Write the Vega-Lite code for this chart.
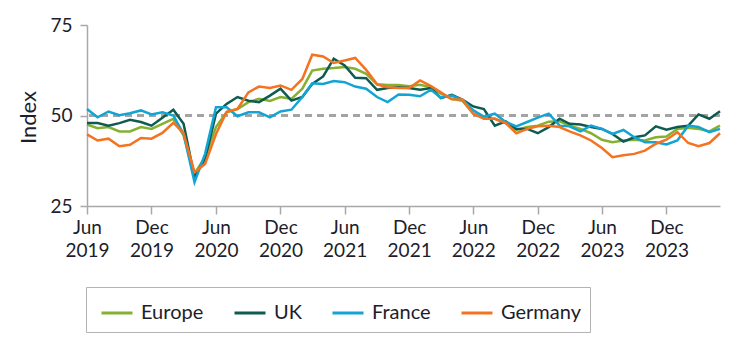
{
"$schema": "https://vega.github.io/schema/vega-lite/v6.json",
"width": 633, "height": 181,
"autosize": {"type": "none"},
"padding": {"left": 87, "top": 25, "right": 18, "bottom": 149},
"config": {"view": {"stroke": null}, "font": "Lato",
  "axis": {"labelColor": "#1d1d2b", "titleColor": "#1d1d2b", "domainColor": "#a8a8a8", "tickColor": "#a8a8a8", "domainWidth": 1.5, "tickWidth": 1.5, "labelFontSize": 19, "titleFontSize": 22, "titleFontWeight": "normal", "grid": false},
  "legend": {"labelColor": "#1d1d2b", "labelFontSize": 20}},
"data": {"values": [
{"d":"2019/06/01","s":"Europe","v":47.5},{"d":"2019/07/01","s":"Europe","v":46.5},{"d":"2019/08/01","s":"Europe","v":46.8},{"d":"2019/09/01","s":"Europe","v":45.6},{"d":"2019/10/01","s":"Europe","v":45.6},{"d":"2019/11/01","s":"Europe","v":46.8},{"d":"2019/12/01","s":"Europe","v":46.3},{"d":"2020/01/01","s":"Europe","v":47.7},{"d":"2020/02/01","s":"Europe","v":49.1},{"d":"2020/03/01","s":"Europe","v":44.5},{"d":"2020/04/01","s":"Europe","v":33.9},{"d":"2020/05/01","s":"Europe","v":38.5},{"d":"2020/06/01","s":"Europe","v":46.8},{"d":"2020/07/01","s":"Europe","v":50.9},{"d":"2020/08/01","s":"Europe","v":51.8},{"d":"2020/09/01","s":"Europe","v":53.7},{"d":"2020/10/01","s":"Europe","v":54.6},{"d":"2020/11/01","s":"Europe","v":54.0},{"d":"2020/12/01","s":"Europe","v":55.1},{"d":"2021/01/01","s":"Europe","v":54.6},{"d":"2021/02/01","s":"Europe","v":57.4},{"d":"2021/03/01","s":"Europe","v":62.4},{"d":"2021/04/01","s":"Europe","v":62.9},{"d":"2021/05/01","s":"Europe","v":63.1},{"d":"2021/06/01","s":"Europe","v":63.4},{"d":"2021/07/01","s":"Europe","v":62.9},{"d":"2021/08/01","s":"Europe","v":61.5},{"d":"2021/09/01","s":"Europe","v":58.6},{"d":"2021/10/01","s":"Europe","v":58.4},{"d":"2021/11/01","s":"Europe","v":58.4},{"d":"2021/12/01","s":"Europe","v":58.1},{"d":"2022/01/01","s":"Europe","v":58.5},{"d":"2022/02/01","s":"Europe","v":57.8},{"d":"2022/03/01","s":"Europe","v":56.0},{"d":"2022/04/01","s":"Europe","v":54.6},{"d":"2022/05/01","s":"Europe","v":54.1},{"d":"2022/06/01","s":"Europe","v":50.5},{"d":"2022/07/01","s":"Europe","v":49.4},{"d":"2022/08/01","s":"Europe","v":49.1},{"d":"2022/09/01","s":"Europe","v":47.9},{"d":"2022/10/01","s":"Europe","v":46.0},{"d":"2022/11/01","s":"Europe","v":46.8},{"d":"2022/12/01","s":"Europe","v":47.2},{"d":"2023/01/01","s":"Europe","v":48.3},{"d":"2023/02/01","s":"Europe","v":48.4},{"d":"2023/03/01","s":"Europe","v":47.2},{"d":"2023/04/01","s":"Europe","v":46.3},{"d":"2023/05/01","s":"Europe","v":45.1},{"d":"2023/06/01","s":"Europe","v":43.3},{"d":"2023/07/01","s":"Europe","v":42.6},{"d":"2023/08/01","s":"Europe","v":43.1},{"d":"2023/09/01","s":"Europe","v":43.3},{"d":"2023/10/01","s":"Europe","v":43.1},{"d":"2023/11/01","s":"Europe","v":44.0},{"d":"2023/12/01","s":"Europe","v":44.2},{"d":"2024/01/01","s":"Europe","v":46.3},{"d":"2024/02/01","s":"Europe","v":46.6},{"d":"2024/03/01","s":"Europe","v":46.3},{"d":"2024/04/01","s":"Europe","v":45.6},{"d":"2024/05/01","s":"Europe","v":47.2},
{"d":"2019/06/01","s":"UK","v":47.9},{"d":"2019/07/01","s":"UK","v":47.9},{"d":"2019/08/01","s":"UK","v":47.2},{"d":"2019/09/01","s":"UK","v":47.9},{"d":"2019/10/01","s":"UK","v":48.8},{"d":"2019/11/01","s":"UK","v":48.2},{"d":"2019/12/01","s":"UK","v":47.2},{"d":"2020/01/01","s":"UK","v":49.4},{"d":"2020/02/01","s":"UK","v":51.6},{"d":"2020/03/01","s":"UK","v":47.7},{"d":"2020/04/01","s":"UK","v":33.0},{"d":"2020/05/01","s":"UK","v":38.0},{"d":"2020/06/01","s":"UK","v":50.5},{"d":"2020/07/01","s":"UK","v":53.2},{"d":"2020/08/01","s":"UK","v":55.1},{"d":"2020/09/01","s":"UK","v":54.1},{"d":"2020/10/01","s":"UK","v":53.7},{"d":"2020/11/01","s":"UK","v":55.5},{"d":"2020/12/01","s":"UK","v":57.4},{"d":"2021/01/01","s":"UK","v":54.1},{"d":"2021/02/01","s":"UK","v":55.1},{"d":"2021/03/01","s":"UK","v":58.7},{"d":"2021/04/01","s":"UK","v":60.8},{"d":"2021/05/01","s":"UK","v":65.7},{"d":"2021/06/01","s":"UK","v":63.8},{"d":"2021/07/01","s":"UK","v":60.4},{"d":"2021/08/01","s":"UK","v":60.3},{"d":"2021/09/01","s":"UK","v":57.1},{"d":"2021/10/01","s":"UK","v":57.6},{"d":"2021/11/01","s":"UK","v":57.8},{"d":"2021/12/01","s":"UK","v":57.6},{"d":"2022/01/01","s":"UK","v":57.1},{"d":"2022/02/01","s":"UK","v":57.6},{"d":"2022/03/01","s":"UK","v":54.8},{"d":"2022/04/01","s":"UK","v":55.7},{"d":"2022/05/01","s":"UK","v":54.4},{"d":"2022/06/01","s":"UK","v":52.5},{"d":"2022/07/01","s":"UK","v":51.8},{"d":"2022/08/01","s":"UK","v":47.2},{"d":"2022/09/01","s":"UK","v":48.4},{"d":"2022/10/01","s":"UK","v":46.3},{"d":"2022/11/01","s":"UK","v":46.3},{"d":"2022/12/01","s":"UK","v":45.1},{"d":"2023/01/01","s":"UK","v":46.8},{"d":"2023/02/01","s":"UK","v":49.1},{"d":"2023/03/01","s":"UK","v":47.7},{"d":"2023/04/01","s":"UK","v":47.5},{"d":"2023/05/01","s":"UK","v":46.8},{"d":"2023/06/01","s":"UK","v":46.3},{"d":"2023/07/01","s":"UK","v":44.9},{"d":"2023/08/01","s":"UK","v":42.8},{"d":"2023/09/01","s":"UK","v":44.0},{"d":"2023/10/01","s":"UK","v":44.5},{"d":"2023/11/01","s":"UK","v":47.0},{"d":"2023/12/01","s":"UK","v":46.1},{"d":"2024/01/01","s":"UK","v":46.8},{"d":"2024/02/01","s":"UK","v":47.2},{"d":"2024/03/01","s":"UK","v":50.3},{"d":"2024/04/01","s":"UK","v":49.1},{"d":"2024/05/01","s":"UK","v":51.2},
{"d":"2019/06/01","s":"France","v":51.8},{"d":"2019/07/01","s":"France","v":49.5},{"d":"2019/08/01","s":"France","v":51.1},{"d":"2019/09/01","s":"France","v":50.1},{"d":"2019/10/01","s":"France","v":50.6},{"d":"2019/11/01","s":"France","v":51.4},{"d":"2019/12/01","s":"France","v":50.3},{"d":"2020/01/01","s":"France","v":50.9},{"d":"2020/02/01","s":"France","v":50.0},{"d":"2020/03/01","s":"France","v":44.9},{"d":"2020/04/01","s":"France","v":31.6},{"d":"2020/05/01","s":"France","v":39.4},{"d":"2020/06/01","s":"France","v":52.3},{"d":"2020/07/01","s":"France","v":52.3},{"d":"2020/08/01","s":"France","v":49.8},{"d":"2020/09/01","s":"France","v":50.9},{"d":"2020/10/01","s":"France","v":50.9},{"d":"2020/11/01","s":"France","v":49.5},{"d":"2020/12/01","s":"France","v":51.1},{"d":"2021/01/01","s":"France","v":51.6},{"d":"2021/02/01","s":"France","v":55.1},{"d":"2021/03/01","s":"France","v":58.9},{"d":"2021/04/01","s":"France","v":58.7},{"d":"2021/05/01","s":"France","v":59.5},{"d":"2021/06/01","s":"France","v":59.2},{"d":"2021/07/01","s":"France","v":58.0},{"d":"2021/08/01","s":"France","v":57.4},{"d":"2021/09/01","s":"France","v":55.1},{"d":"2021/10/01","s":"France","v":53.7},{"d":"2021/11/01","s":"France","v":55.8},{"d":"2021/12/01","s":"France","v":55.7},{"d":"2022/01/01","s":"France","v":55.3},{"d":"2022/02/01","s":"France","v":57.1},{"d":"2022/03/01","s":"France","v":54.9},{"d":"2022/04/01","s":"France","v":55.5},{"d":"2022/05/01","s":"France","v":54.3},{"d":"2022/06/01","s":"France","v":51.4},{"d":"2022/07/01","s":"France","v":49.7},{"d":"2022/08/01","s":"France","v":50.5},{"d":"2022/09/01","s":"France","v":48.2},{"d":"2022/10/01","s":"France","v":47.0},{"d":"2022/11/01","s":"France","v":48.2},{"d":"2022/12/01","s":"France","v":49.4},{"d":"2023/01/01","s":"France","v":50.5},{"d":"2023/02/01","s":"France","v":47.2},{"d":"2023/03/01","s":"France","v":47.0},{"d":"2023/04/01","s":"France","v":45.6},{"d":"2023/05/01","s":"France","v":47.2},{"d":"2023/06/01","s":"France","v":46.3},{"d":"2023/07/01","s":"France","v":44.9},{"d":"2023/08/01","s":"France","v":46.0},{"d":"2023/09/01","s":"France","v":44.0},{"d":"2023/10/01","s":"France","v":42.6},{"d":"2023/11/01","s":"France","v":42.6},{"d":"2023/12/01","s":"France","v":42.0},{"d":"2024/01/01","s":"France","v":43.1},{"d":"2024/02/01","s":"France","v":47.2},{"d":"2024/03/01","s":"France","v":46.8},{"d":"2024/04/01","s":"France","v":45.4},{"d":"2024/05/01","s":"France","v":46.3},
{"d":"2019/06/01","s":"Germany","v":44.8},{"d":"2019/07/01","s":"Germany","v":43.1},{"d":"2019/08/01","s":"Germany","v":43.6},{"d":"2019/09/01","s":"Germany","v":41.5},{"d":"2019/10/01","s":"Germany","v":41.9},{"d":"2019/11/01","s":"Germany","v":43.8},{"d":"2019/12/01","s":"Germany","v":43.6},{"d":"2020/01/01","s":"Germany","v":45.2},{"d":"2020/02/01","s":"Germany","v":48.0},{"d":"2020/03/01","s":"Germany","v":45.1},{"d":"2020/04/01","s":"Germany","v":34.3},{"d":"2020/05/01","s":"Germany","v":36.6},{"d":"2020/06/01","s":"Germany","v":44.9},{"d":"2020/07/01","s":"Germany","v":51.0},{"d":"2020/08/01","s":"Germany","v":51.8},{"d":"2020/09/01","s":"Germany","v":56.4},{"d":"2020/10/01","s":"Germany","v":58.0},{"d":"2020/11/01","s":"Germany","v":57.6},{"d":"2020/12/01","s":"Germany","v":58.3},{"d":"2021/01/01","s":"Germany","v":57.1},{"d":"2021/02/01","s":"Germany","v":60.1},{"d":"2021/03/01","s":"Germany","v":66.8},{"d":"2021/04/01","s":"Germany","v":66.3},{"d":"2021/05/01","s":"Germany","v":64.5},{"d":"2021/06/01","s":"Germany","v":65.2},{"d":"2021/07/01","s":"Germany","v":65.9},{"d":"2021/08/01","s":"Germany","v":62.6},{"d":"2021/09/01","s":"Germany","v":58.6},{"d":"2021/10/01","s":"Germany","v":57.8},{"d":"2021/11/01","s":"Germany","v":57.6},{"d":"2021/12/01","s":"Germany","v":57.6},{"d":"2022/01/01","s":"Germany","v":59.7},{"d":"2022/02/01","s":"Germany","v":58.1},{"d":"2022/03/01","s":"Germany","v":56.4},{"d":"2022/04/01","s":"Germany","v":54.5},{"d":"2022/05/01","s":"Germany","v":54.4},{"d":"2022/06/01","s":"Germany","v":50.5},{"d":"2022/07/01","s":"Germany","v":49.1},{"d":"2022/08/01","s":"Germany","v":49.1},{"d":"2022/09/01","s":"Germany","v":47.9},{"d":"2022/10/01","s":"Germany","v":45.1},{"d":"2022/11/01","s":"Germany","v":46.3},{"d":"2022/12/01","s":"Germany","v":47.0},{"d":"2023/01/01","s":"Germany","v":47.2},{"d":"2023/02/01","s":"Germany","v":46.8},{"d":"2023/03/01","s":"Germany","v":45.6},{"d":"2023/04/01","s":"Germany","v":44.5},{"d":"2023/05/01","s":"Germany","v":43.1},{"d":"2023/06/01","s":"Germany","v":41.0},{"d":"2023/07/01","s":"Germany","v":38.5},{"d":"2023/08/01","s":"Germany","v":39.0},{"d":"2023/09/01","s":"Germany","v":39.4},{"d":"2023/10/01","s":"Germany","v":40.3},{"d":"2023/11/01","s":"Germany","v":42.2},{"d":"2023/12/01","s":"Germany","v":43.3},{"d":"2024/01/01","s":"Germany","v":45.4},{"d":"2024/02/01","s":"Germany","v":42.4},{"d":"2024/03/01","s":"Germany","v":41.5},{"d":"2024/04/01","s":"Germany","v":42.4},{"d":"2024/05/01","s":"Germany","v":45.1}
]},
"layer": [
 {"mark": {"type": "rule", "strokeDash": [7, 5], "color": "#a3a3a3", "strokeWidth": 2},
  "encoding": {"y": {"datum": 50, "type": "quantitative"}}},
 {"mark": {"type": "line", "strokeWidth": 2.5, "strokeJoin": "miter"},
  "encoding": {
   "x": {"field": "d", "type": "temporal",
     "scale": {"domain": [{"year": 2019, "month": 6, "date": 1}, {"year": 2024, "month": 5, "date": 1}]},
     "axis": {"title": null, "values": [{"year": 2019, "month": 6, "date": 1}, {"year": 2019, "month": 12, "date": 1}, {"year": 2020, "month": 6, "date": 1}, {"year": 2020, "month": 12, "date": 1}, {"year": 2021, "month": 6, "date": 1}, {"year": 2021, "month": 12, "date": 1}, {"year": 2022, "month": 6, "date": 1}, {"year": 2022, "month": 12, "date": 1}, {"year": 2023, "month": 6, "date": 1}, {"year": 2023, "month": 12, "date": 1}],
       "labelExpr": "[timeFormat(datum.value, '%b'), timeFormat(datum.value, '%Y')]",
       "labelFontSize": 19, "tickSize": 8, "labelPadding": 4, "labelLineHeight": 23, "labelFlush": false, "labelOverlap": false}},
   "y": {"field": "v", "type": "quantitative",
     "scale": {"domain": [25, 75], "nice": false, "zero": false},
     "axis": {"title": "Index", "titleFontSize": 22, "titleFont": "Lato", "titleFontWeight": "normal", "labelFontSize": 19, "values": [25, 50, 75], "tickSize": 7, "labelPadding": 8, "titleX": -52, "titleY": 92, "titleBaseline": "alphabetic", "titleAlign": "center", "titleAngle": -90}},
   "color": {"field": "s", "type": "nominal",
     "scale": {"domain": ["Europe", "UK", "France", "Germany"], "range": ["#86b02f", "#0e5b50", "#12a4d4", "#f47321"]},
     "legend": {"orient": "none", "legendX": -1, "legendY": 262, "direction": "horizontal", "title": null,
       "strokeColor": "#b3b3b3", "padding": 9, "symbolOffset": 5, "symbolType": "stroke", "symbolStrokeWidth": 3, "symbolSize": 961,
       "labelFontSize": 20, "columnPadding": 24, "labelOffset": 7}}
  }}
]
}
